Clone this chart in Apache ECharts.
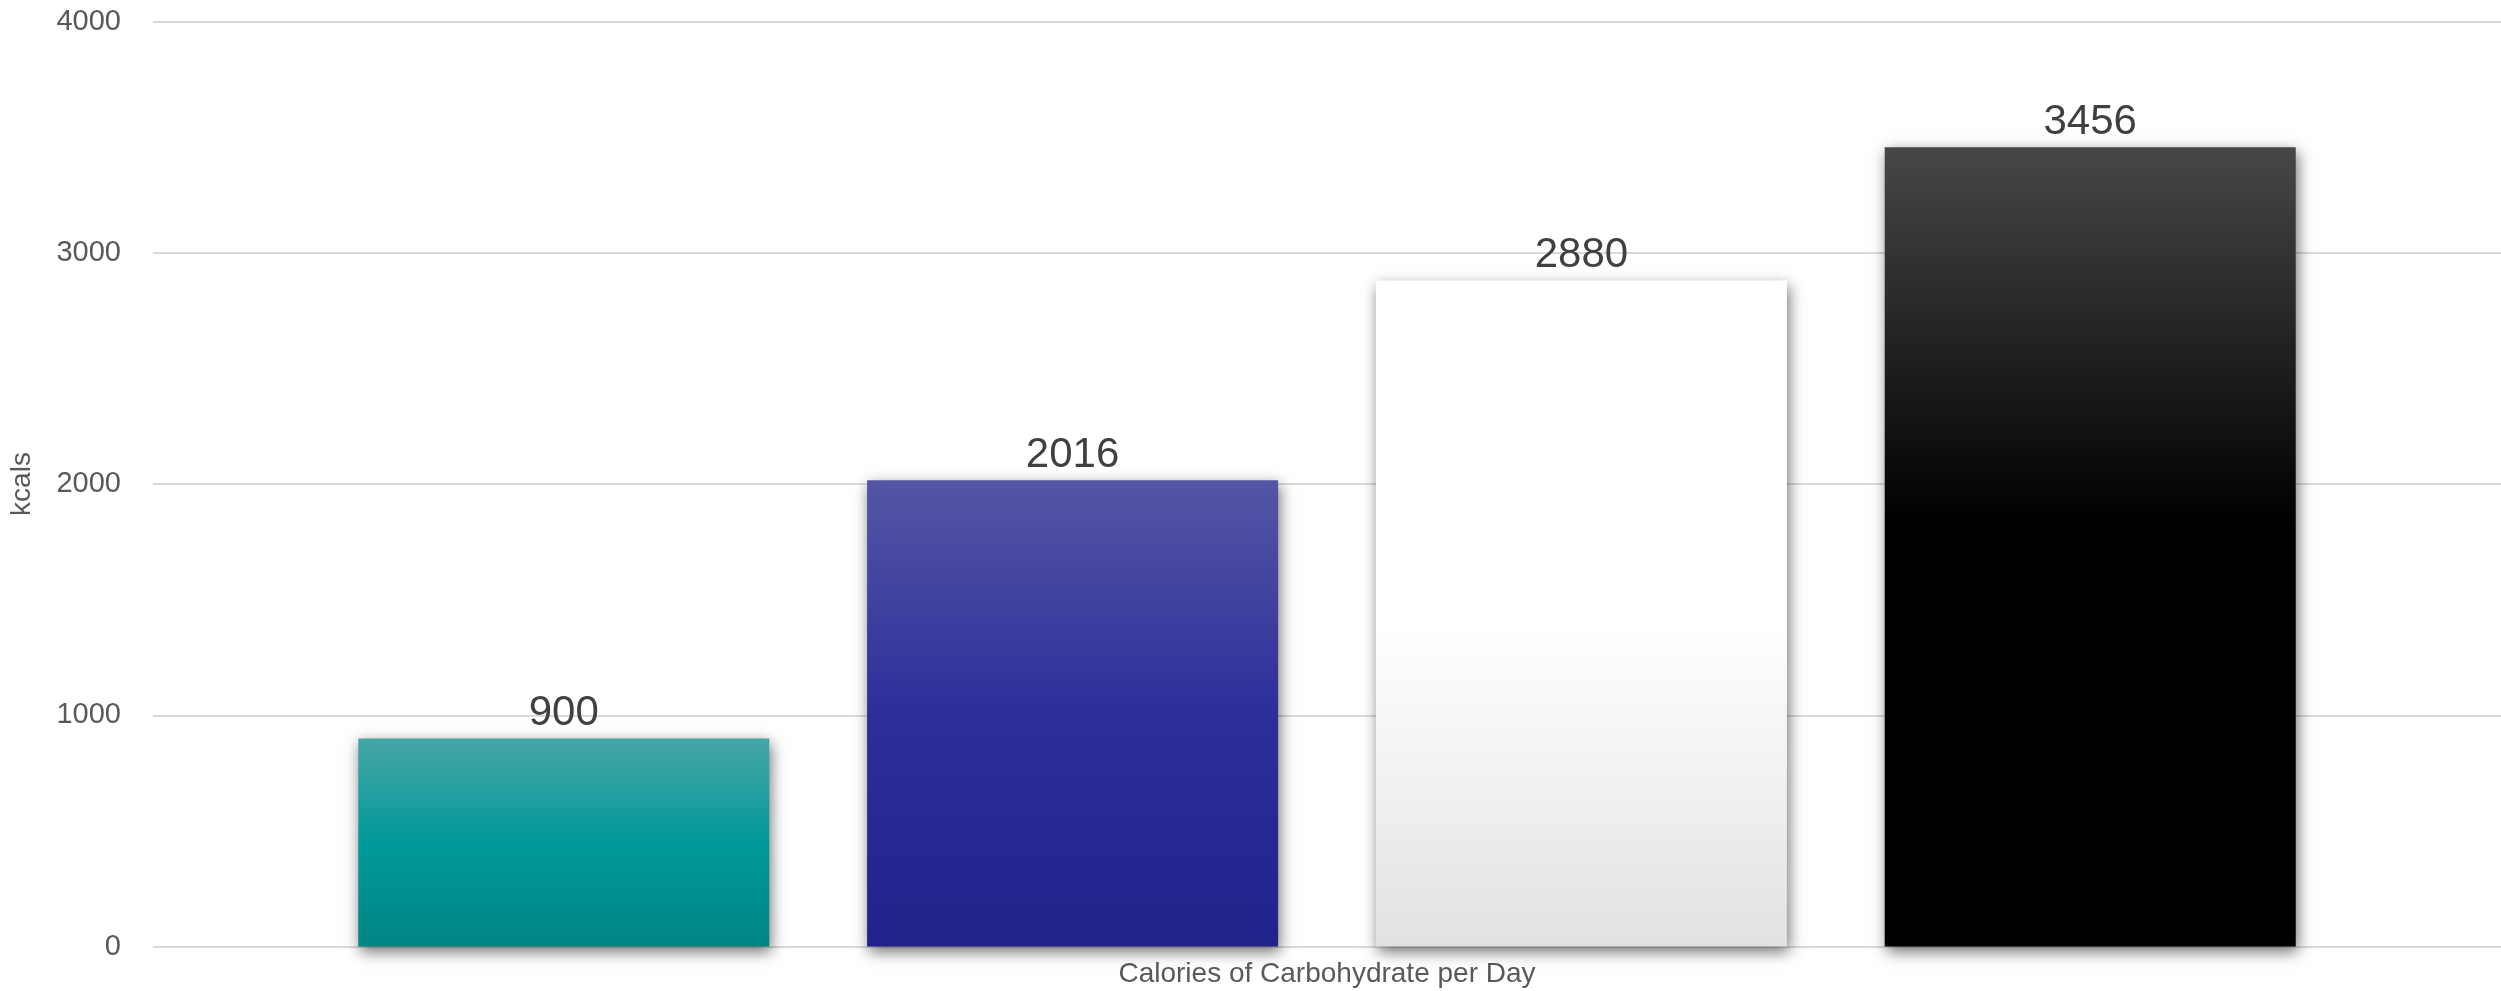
<!DOCTYPE html>
<html>
<head>
<meta charset="utf-8">
<script src="https://cdn.jsdelivr.net/npm/echarts@6/dist/echarts.min.js"></script>
<style>
  html, body { margin: 0; padding: 0; background: #fff; }
  #main { width: 2501px; height: 991px; }
</style>
</head>
<body>
<div id="main"></div>
<script>
// data
var categories = ['Calories of Carbohydrate per Day'];
var seriesNames = ['A', 'B', 'C', 'D'];
var kcalValues = [900, 2016, 2880, 3456];
var yTicks = [0, 1000, 2000, 3000, 4000];

// top -> bottom gradient for each bar
var barGradients = [
  [[0, '#47a6a6'], [0.5, '#009999'], [1, '#008585']],
  [[0, '#5555a5'], [0.5, '#2e2e9b'], [1, '#22228b']],
  [[0, '#ffffff'], [0.52, '#ffffff'], [1, '#e2e2e2']],
  [[0, '#474747'], [0.47, '#000000'], [1, '#000000']]
];

var font = 'Liberation Sans, Arial, sans-serif';

var chart = echarts.init(document.getElementById('main'));

var series = kcalValues.map(function (v, i) {
  return {
    name: seriesNames[i],
    type: 'bar',
    data: [v],
    barWidth: 411,
    barGap: '23.8%',
    itemStyle: {
      color: new echarts.graphic.LinearGradient(0, 0, 0, 1,
        barGradients[i].map(function (s) { return { offset: s[0], color: s[1] }; })),
      shadowColor: 'rgba(0,0,0,0.55)',
      shadowBlur: 14,
      shadowOffsetX: 2,
      shadowOffsetY: 5
    },
    label: {
      show: true,
      position: 'top',
      distance: 4,
      color: '#404040',
      fontSize: 42,
      fontFamily: font
    }
  };
});

chart.setOption({
  animation: false,
  grid: { left: 151, right: 0, top: 21.5, bottom: 44.5 },
  xAxis: {
    type: 'category',
    data: categories,
    axisLine: { show: false },
    axisTick: { show: false },
    axisLabel: { margin: 14, color: '#595959', fontSize: 28, fontFamily: font }
  },
  yAxis: {
    type: 'value',
    min: yTicks[0],
    max: yTicks[yTicks.length - 1],
    interval: yTicks[1] - yTicks[0],
    name: 'kcals',
    nameLocation: 'middle',
    nameGap: 117,
    nameTextStyle: { color: '#595959', fontSize: 28, fontFamily: font },
    axisLine: { show: false },
    axisTick: { show: false },
    axisLabel: {
      margin: 32, color: '#595959', fontSize: 29, fontFamily: font,
      formatter: function (v) { return String(v); }
    },
    splitLine: { lineStyle: { color: '#d9d9d9', width: 2 } }
  },
  series: series
});
</script>
</body>
</html>
